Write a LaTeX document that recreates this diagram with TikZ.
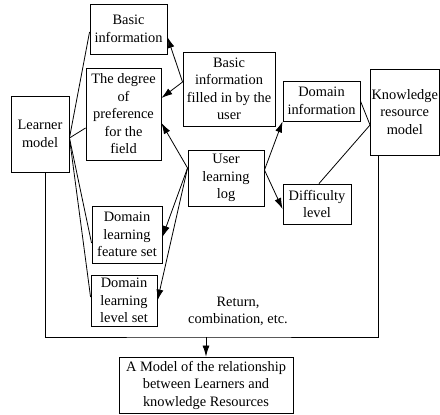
\documentclass[tikz,border=0pt]{standalone}
\usepackage{fontspec}
\setmainfont{Liberation Serif}
\usetikzlibrary{arrows.meta}

\begin{document}
\begin{tikzpicture}[x=1pt,y=-1pt,
    line width=0.8pt,
    >={Latex[length=11pt,width=7pt]},
    box/.style={draw,line width=0.9pt,align=center,inner sep=0pt,
      font=\fontsize{14.4}{17.5}\selectfont},
    plain/.style={align=center,inner sep=0pt,
      font=\fontsize{14.4}{17.5}\selectfont}]
  \useasboundingbox (0,0) rectangle (440,415) ;
  % boxes
  \node[box,minimum width=58,minimum height=76] (learner) at (40,134) {Learner\\model} ;
  \node[box,minimum width=77,minimum height=50] (basic) at (128.5,29) {Basic\\information} ;
  \node[box,minimum width=75,minimum height=92] (pref) at (123.5,114) {The degree\\of\\preference\\for the\\field} ;
  \node[box,minimum width=70,minimum height=57] (feat) at (127,234.5) {Domain\\learning\\feature set} ;
  \node[box,minimum width=66,minimum height=51] (level) at (124,300.5) {Domain\\learning\\level set} ;
  \node[box,minimum width=92,minimum height=74] (filled) at (229,89) {Basic\\information\\filled in by the\\user} ;
  \node[box,minimum width=76,minimum height=56] (log) at (226,178) {User\\learning\\log} ;
  \node[box,minimum width=77,minimum height=40] (dominfo) at (321.5,101) {Domain\\information} ;
  \node[box,minimum width=68,minimum height=40] (diff) at (317,204) {Difficulty\\level} ;
  \node[box,minimum width=68.5,minimum height=86] (krm) at (404.75,112) {Knowledge\\resource\\model} ;
  \node[box,minimum width=174,minimum height=56] (result) at (206,385) {A Model of the relationship\\between Learners and\\knowledge Resources} ;
  \node[plain] (note) at (238,311.5) {Return,\\combination, etc.} ;
  % learner model links
  \draw ([yshift=-4pt]learner.east) -- ([yshift=-3pt]basic.west) ;
  \draw ([yshift=-4pt]learner.east) -- ([yshift=-14pt]pref.west) ;
  \draw ([yshift=-4pt]learner.east) -- ([yshift=-8.5pt]feat.west) ;
  \draw ([yshift=-4pt]learner.east) -- ([yshift=3.5pt]level.west) ;
  % arrows from the middle column
  \draw[->] ([yshift=7pt]filled.west) -- ([yshift=-8pt]basic.east) ;
  \draw[->] ([yshift=7pt]filled.west) -- ([yshift=16pt]pref.east) ;
  \draw[->] ([yshift=10pt]log.west) -- ([yshift=-9pt]pref.east) ;
  \draw[->] ([yshift=10pt]log.west) -- ([yshift=-2.5pt]feat.east) ;
  \draw[->] ([yshift=10pt]log.west) -- (level.east) ;
  \draw[->] ([yshift=8pt]log.east) -- (dominfo.south west) ;
  \draw[->] ([yshift=8pt]log.east) -- ([yshift=-5pt]diff.west) ;
  % knowledge resource model links
  \draw (dominfo.east) -- ([yshift=-13pt]krm.west) ;
  \draw ([xshift=2pt]diff.north) -- ([yshift=-13pt]krm.west) ;
  % frame down to the result
  \coordinate (join) at (result.north |- 0,337) ;
  \draw ([xshift=5pt]learner.south) |- (join) -| ([xshift=8pt]krm.south west) ;
  \draw[->] (join) -- (result.north) ;
\end{tikzpicture}
\end{document}
